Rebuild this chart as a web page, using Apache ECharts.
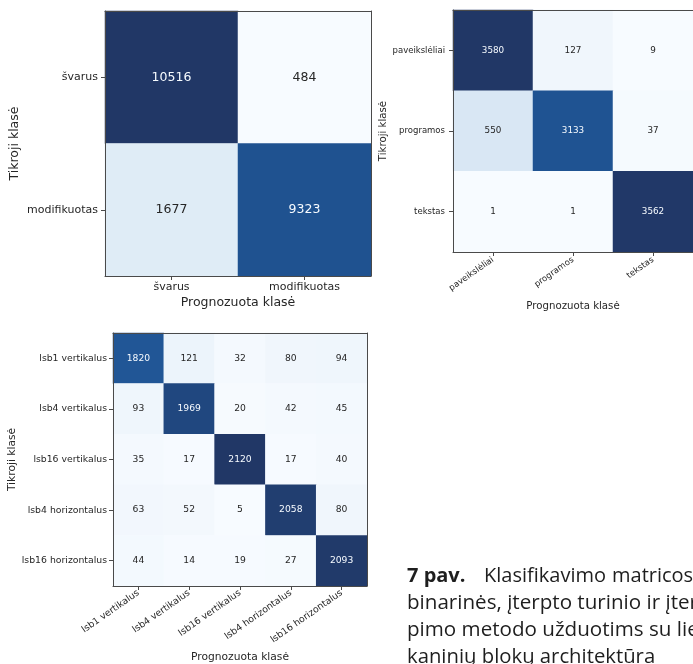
<!DOCTYPE html>
<html><head><meta charset="utf-8">
<script src="https://cdn.jsdelivr.net/npm/echarts@6/dist/echarts.min.js"></script>
<style>html,body{margin:0;padding:0;background:#fff}#c{width:693px;height:664px}</style>
</head><body><div id="c"></div>
<script>
// ---- data ----
const binaryClasses = ['švarus', 'modifikuotas'];
const binaryValues = [[10516, 484], [1677, 9323]];
const contentClasses = ['paveikslėliai', 'programos', 'tekstas'];
const contentValues = [[3580, 127, 9], [550, 3133, 37], [1, 1, 3562]];
const methodClasses = ['lsb1 vertikalus', 'lsb4 vertikalus', 'lsb16 vertikalus', 'lsb4 horizontalus', 'lsb16 horizontalus'];
const methodValues = [
  [1820, 121, 32, 80, 94],
  [93, 1969, 20, 42, 45],
  [35, 17, 2120, 17, 40],
  [63, 52, 5, 2058, 80],
  [44, 14, 19, 27, 2093]
];
const axisTitleX = 'Prognozuota klasė';
const axisTitleY = 'Tikroji klasė';
const captionBold = '7 pav.';
const captionLine1 = ['Klasifikavimo', 'matricos'];
const captionLine2 = 'binarinės, įterpto turinio ir įter-';
const captionLine3 = 'pimo metodo užduotims su lie-';
const captionLine4 = 'kaninių blokų architektūra';

// ---- styling ----
const blues = ['#f7fbff', '#deebf6', '#c7dbee', '#a0c7e0', '#72a9d2', '#4a8bc2', '#2d6cad', '#1f5392', '#213766'];
const FONT = 'DejaVu Sans';
const spine = '#4a4a4a';
const darkText = '#262626';

function cells(vals) {
  const flat = vals.flat();
  const mn = Math.min(...flat), mx = Math.max(...flat);
  const th = (mn + mx) / 2;
  const out = [];
  vals.forEach((row, i) => row.forEach((v, j) => {
    out.push({ value: [j, i, v], label: { color: v > th ? '#f7fbff' : darkText } });
  }));
  return { data: out, min: mn, max: mx };
}

const specs = [
  { cls: binaryClasses, vals: binaryValues, grid: { left: 105, top: 11, width: 266, height: 265 },
    tick: 11, val: 12.5, title: 12.5, rot: 0, xMargin: 6, yMargin: 7, xGap: 20, yGap: 84 },
  { cls: contentClasses, vals: contentValues, grid: { left: 453, top: 10, width: 243, height: 242 },
    tick: 8.5, val: 8.8, title: 10.2, rot: 35, xMargin: 7, yMargin: 8, xGap: 49, yGap: 64 },
  { cls: methodClasses, vals: methodValues, grid: { left: 113, top: 333, width: 254, height: 254 },
    tick: 9.3, val: 9.2, title: 10.7, rot: 35, xMargin: 6, yMargin: 6, xGap: 66, yGap: 94 }
];

const option = {
  animation: false,
  backgroundColor: '#fff',
  grid: [], xAxis: [], yAxis: [], series: [], visualMap: [], graphic: []
};

specs.forEach((s, k) => {
  const c = cells(s.vals);
  option.grid.push(Object.assign({ containLabel: false }, s.grid));
  const common = {
    type: 'category', gridIndex: k, z: 10,
    axisLine: { show: true, lineStyle: { color: spine, width: 1 } },
    splitLine: { show: false }
  };
  option.xAxis.push(Object.assign({}, common, {
    data: s.cls, position: 'bottom',
    axisTick: { show: true, alignWithLabel: true, length: 4, lineStyle: { color: spine } },
    axisLabel: { interval: 0, rotate: s.rot, margin: s.xMargin, fontFamily: FONT, fontSize: s.tick, color: darkText },
    name: axisTitleX, nameLocation: 'middle', nameGap: s.xGap,
    nameTextStyle: { fontFamily: FONT, fontSize: s.title, color: darkText }
  }));
  option.xAxis.push(Object.assign({}, common, {
    data: s.cls, position: 'top',
    axisTick: { show: false }, axisLabel: { show: false }
  }));
  option.yAxis.push(Object.assign({}, common, {
    data: s.cls, inverse: true, position: 'left',
    axisTick: { show: true, alignWithLabel: true, length: 4, lineStyle: { color: spine } },
    axisLabel: { interval: 0, margin: s.yMargin, fontFamily: FONT, fontSize: s.tick, color: darkText },
    name: axisTitleY, nameLocation: 'middle', nameGap: s.yGap,
    nameTextStyle: { fontFamily: FONT, fontSize: s.title, color: darkText }
  }));
  option.yAxis.push(Object.assign({}, common, {
    data: s.cls, inverse: true, position: 'right',
    axisTick: { show: false }, axisLabel: { show: false }
  }));
  option.series.push({
    type: 'heatmap', xAxisIndex: 2 * k, yAxisIndex: 2 * k,
    data: c.data,
    label: { show: true, fontFamily: FONT, fontSize: s.val, formatter: p => String(p.value[2]) },
    itemStyle: { borderWidth: 0 },
    emphasis: { disabled: true }
  });
  option.visualMap.push({
    type: 'continuous', show: false, seriesIndex: k, dimension: 2,
    min: c.min, max: c.max, inRange: { color: blues }
  });
});

const capFont = '"Open Sans", "Noto Sans", sans-serif';
const capColor = '#1e1e1e';
function capText(x, y, text, bold, size) {
  return { type: 'text', left: x, top: y, z: 20,
    style: { text, font: (bold ? 'bold ' : '') + size + 'px ' + capFont, fill: capColor } };
}
option.graphic = [
  capText(407, 566, captionBold, true, 20),
  capText(484, 566, captionLine1[0], false, 20),
  capText(612, 566, captionLine1[1], false, 20),
  capText(407, 593, captionLine2, false, 20.6),
  capText(407, 620, captionLine3, false, 20.6),
  capText(407, 647, captionLine4, false, 20.3)
];

const chart = echarts.init(document.getElementById('c'), null, { renderer: 'canvas' });
chart.setOption(option);
</script>
</body></html>
